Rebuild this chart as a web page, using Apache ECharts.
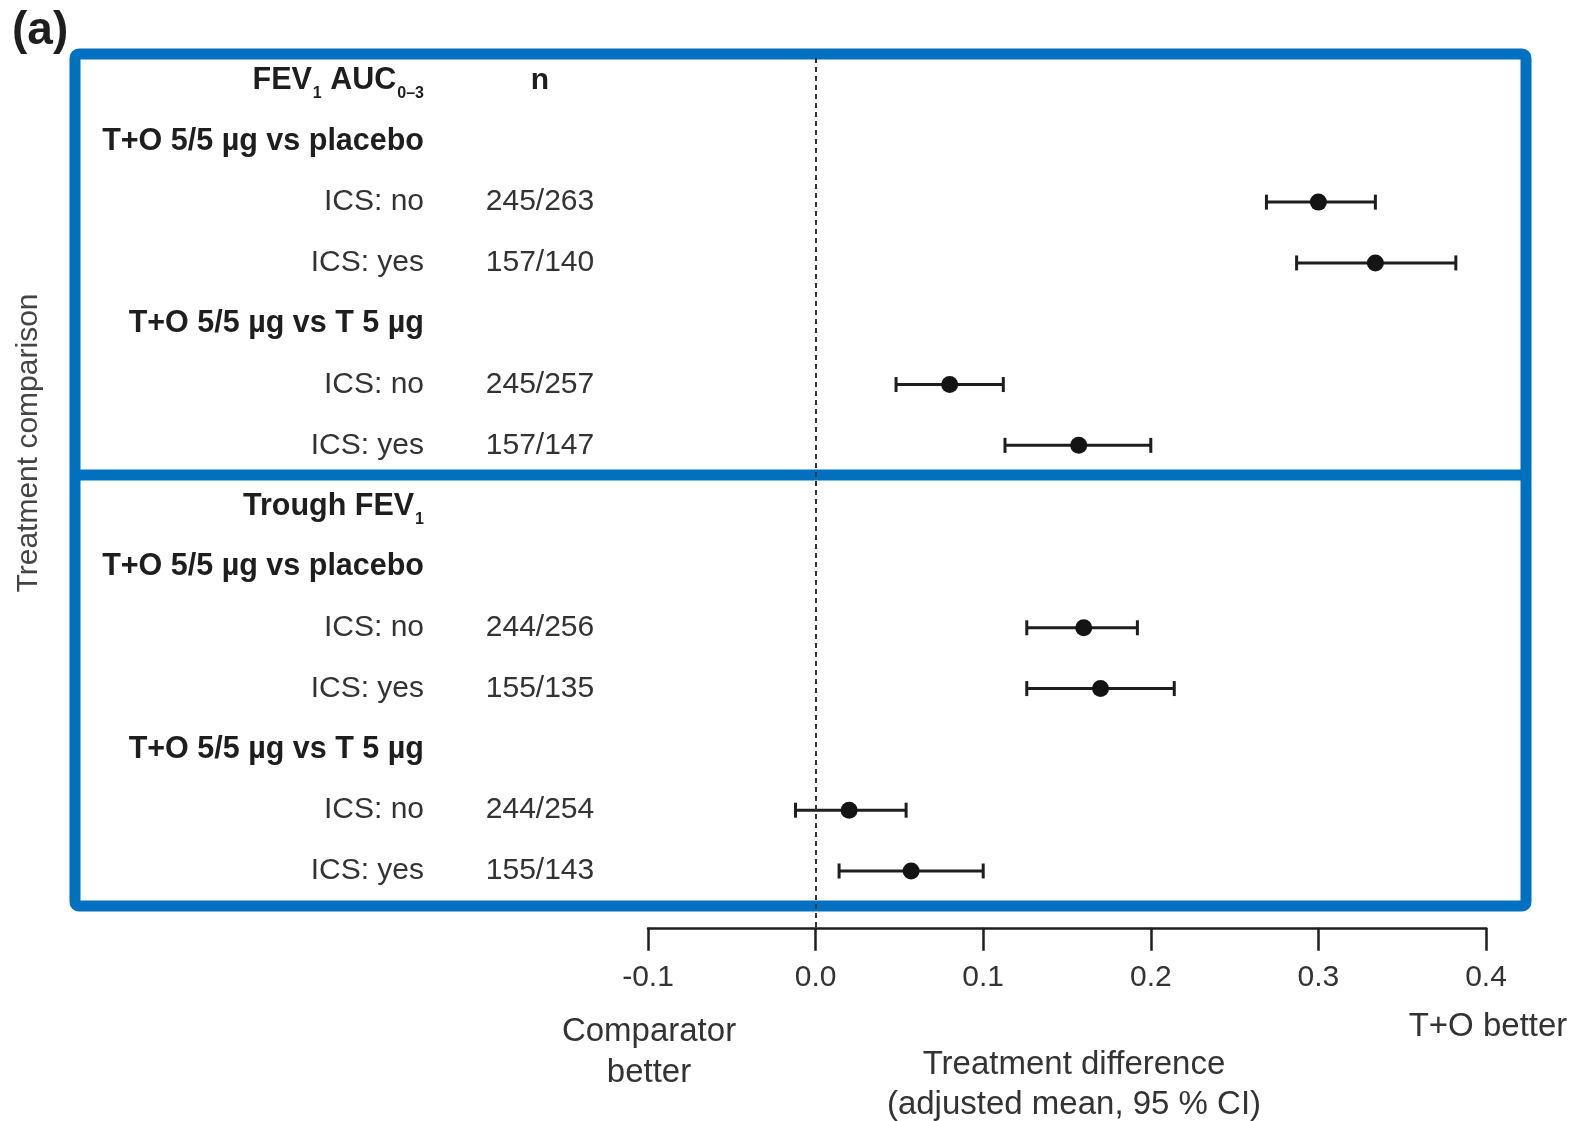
<!DOCTYPE html>
<html>
<head>
<meta charset="utf-8">
<script src="https://cdn.jsdelivr.net/npm/echarts@6/dist/echarts.min.js"></script>
<style>
html,body{margin:0;padding:0;background:#fff;}
#chart{width:1577px;height:1121px;}
</style>
</head>
<body>
<div id="chart"></div>
<script>
// ---- data ----
const rowLabels = [
  '{b|FEV}{bs|1}{b| AUC}{bs|0–3}',
  '{b|T+O 5/5 µg vs placebo}',
  'ICS: no',
  'ICS: yes',
  '{b|T+O 5/5 µg vs T 5 µg}',
  'ICS: no',
  'ICS: yes',
  '{b|Trough FEV}{bs|1}',
  '{b|T+O 5/5 µg vs placebo}',
  'ICS: no',
  'ICS: yes',
  '{b|T+O 5/5 µg vs T 5 µg}',
  'ICS: no',
  'ICS: yes'
];
const nCounts = ['n', '', '245/263', '157/140', '', '245/257', '157/147',
                 '', '', '244/256', '155/135', '', '244/254', '155/143'];
const pointRows = [2, 3, 5, 6, 9, 10, 12, 13];
const estimates = [0.300, 0.334, 0.080, 0.157, 0.160, 0.170, 0.020, 0.057];
const ciLower   = [0.269, 0.287, 0.048, 0.113, 0.126, 0.126, -0.012, 0.014];
const ciUpper   = [0.334, 0.382, 0.112, 0.200, 0.192, 0.214, 0.054, 0.100];
const xMin = -0.1, xMax = 0.4, xStep = 0.1;

// ---- style constants ----
const REF_LINE_FROM = -0.37, REF_LINE_TO = 13.94;
const BLUE = '#0070c0';
const INK = '#1e1e1e';
const TEXT = '#333';
const FONT = 'Liberation Sans, Arial, sans-serif';

const pointData = pointRows.map((r, i) => [estimates[i], r]);
const ciData = pointRows.map((r, i) => [ciLower[i], ciUpper[i], r]);

const chart = echarts.init(document.getElementById('chart'), null, {renderer: 'canvas'});

const option = {
  backgroundColor: '#fff',
  animation: false,
  textStyle: {fontFamily: FONT},
  grid: {left: 648, right: 91, top: 19.7, bottom: 189.2, outerBoundsMode: 'none', containLabel: false},
  xAxis: {
    type: 'value', min: xMin, max: xMax, interval: xStep, offset: -4,
    axisLine: {show: true, onZero: false, lineStyle: {color: INK, width: 2.5}},
    axisTick: {show: true, inside: false, length: 23, lineStyle: {color: INK, width: 2.5}},
    splitLine: {show: false},
    axisLabel: {fontSize: 30, color: TEXT, margin: 35, formatter: v => v.toFixed(1), hideOverlap: false},
    name: 'Treatment difference\n(adjusted mean, 95 % CI)',
    nameLocation: 'middle', nameGap: 117,
    nameTextStyle: {fontSize: 33, color: TEXT, lineHeight: 40, padding: [0, 0, 0, 14]}
  },
  yAxis: {
    type: 'value', inverse: true, min: -1, max: 14, interval: 1,
    axisLine: {show: false}, axisTick: {show: false}, splitLine: {show: false},
    axisLabel: {
      margin: 8, hideOverlap: false,
      formatter: function (v) {
        const i = Math.round(v);
        if (i < 0 || i >= rowLabels.length) return '';
        let lab = rowLabels[i];
        if (lab.indexOf('{') !== 0) lab = '{l|' + lab + '}';
        const n = nCounts[i];
        const nTok = n ? (i === 0 ? '{nb|' + n + '}' : '{n|' + n + '}') : '{n| }';
        return lab + '{s| }' + nTok;
      },
      rich: {
        l: {fontSize: 30, color: TEXT},
        b: {fontSize: 30.5, fontWeight: 'bold', color: INK},
        bs: {fontSize: 16, fontWeight: 'bold', color: INK, padding: [26, 0, 0, 1]},
        s: {width: 16, fontSize: 10},
        n: {width: 200, align: 'center', fontSize: 30, color: TEXT},
        nb: {width: 200, align: 'center', fontSize: 30, fontWeight: 'bold', color: INK}
      }
    }
  },
  graphic: [
    {type: 'rect', z: 1, shape: {x: 75, y: 54, width: 1451, height: 852, r: 4},
     style: {fill: 'none', stroke: BLUE, lineWidth: 11}},
    {type: 'line', z: 1, shape: {x1: 75, y1: 475, x2: 1526, y2: 475},
     style: {stroke: BLUE, lineWidth: 11}},
    {type: 'text', left: 12, top: 8, style: {text: '(a)', fontSize: 46, fontWeight: 'bold', fill: INK, fontFamily: FONT}},
    {type: 'text', x: 29, y: 443, rotation: Math.PI / 2,
     style: {text: 'Treatment comparison', fontSize: 30, fill: '#444', align: 'center', verticalAlign: 'middle', fontFamily: FONT}},
    {type: 'text', x: 649, y: 1052,
     style: {text: 'Comparator\nbetter', fontSize: 33, lineHeight: 41, fill: TEXT, align: 'center', verticalAlign: 'middle', fontFamily: FONT}},
    {type: 'text', x: 1488, y: 1027,
     style: {text: 'T+O better', fontSize: 33, fill: TEXT, align: 'center', verticalAlign: 'middle', fontFamily: FONT}}
  ],
  series: [
    {
      type: 'custom', name: 'CI', z: 3,
      data: ciData,
      renderItem: function (params, api) {
        const row = api.value(2);
        const p1 = api.coord([api.value(0), row]);
        const p2 = api.coord([api.value(1), row]);
        const h = 7.5;
        const st = {stroke: INK, lineWidth: 3};
        return {type: 'group', children: [
          {type: 'line', shape: {x1: p1[0], y1: p1[1], x2: p2[0], y2: p2[1]}, style: st},
          {type: 'line', shape: {x1: p1[0], y1: p1[1] - h, x2: p1[0], y2: p1[1] + h}, style: st},
          {type: 'line', shape: {x1: p2[0], y1: p2[1] - h, x2: p2[0], y2: p2[1] + h}, style: st}
        ]};
      }
    },
    {
      type: 'scatter', name: 'Estimate', z: 4,
      data: pointData, symbol: 'circle', symbolSize: 17,
      itemStyle: {color: '#141414', opacity: 1},
      markLine: {
        silent: true, symbol: 'none', label: {show: false},
        lineStyle: {color: '#333', width: 2, type: [5, 4]},
        data: [[{coord: [0, REF_LINE_FROM]}, {coord: [0, REF_LINE_TO]}]]
      }
    }
  ]
};
chart.setOption(option);
</script>
</body>
</html>
